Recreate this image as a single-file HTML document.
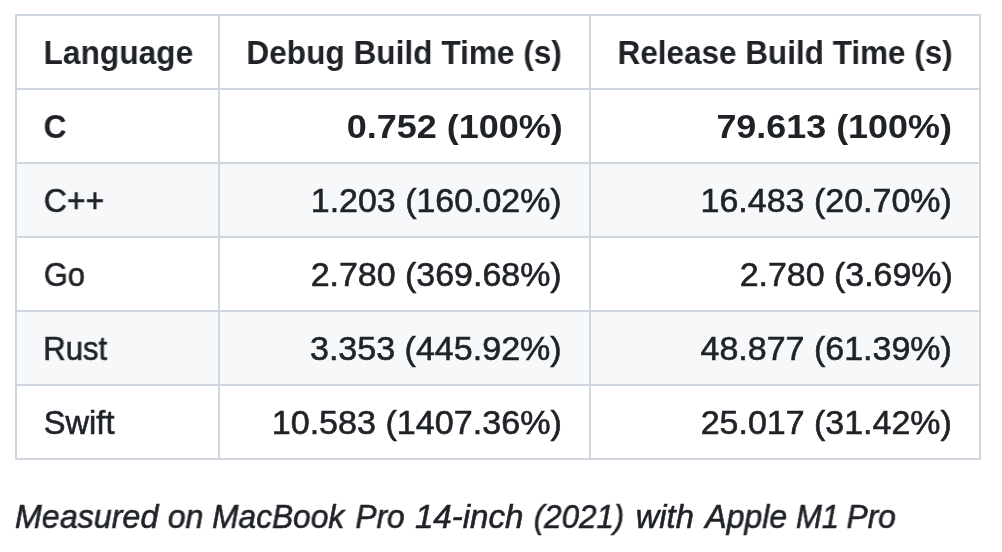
<!DOCTYPE html>
<html><head><meta charset="utf-8"><style>
html,body{margin:0;padding:0;background:#ffffff;width:1002px;height:552px;overflow:hidden}
body{position:relative;font-family:"Liberation Sans",sans-serif;color:#1f2328}
.hl{position:absolute;left:15px;width:966px;height:2px;background:#d0d7de}
.vl{position:absolute;top:14px;height:446px;width:2px;background:#d0d7de}
.bg{position:absolute;background:#f6f8fa}
.t{position:absolute;left:0;font-size:32.5px;line-height:48px;white-space:nowrap;transform-origin:0 0;will-change:transform;-webkit-text-stroke:0.6px #1f2328}
.b{font-weight:bold;-webkit-text-stroke:0}
.i{font-style:italic}
</style></head><body>
<div class="bg" style="left:15px;top:162px;width:966px;height:76px"></div>
<div class="bg" style="left:15px;top:310px;width:966px;height:76px"></div>
<div class="hl" style="top:14px"></div>
<div class="hl" style="top:88px"></div>
<div class="hl" style="top:162px"></div>
<div class="hl" style="top:236px"></div>
<div class="hl" style="top:310px"></div>
<div class="hl" style="top:384px"></div>
<div class="hl" style="top:458px"></div>
<div class="vl" style="left:15px"></div>
<div class="vl" style="left:218px"></div>
<div class="vl" style="left:589px"></div>
<div class="vl" style="left:979px"></div>
<div class="t b" style="top:29px;transform:translateX(43.55px) scaleX(0.9747)">Language</div>
<div class="t b" style="top:29px;transform:translateX(246.35px) scaleX(0.9726)">Debug Build Time (s)</div>
<div class="t b" style="top:29px;transform:translateX(617.56px) scaleX(0.9681)">Release Build Time (s)</div>
<div class="t b" style="top:103px;transform:translateX(43.52px) scaleX(0.9810)">C</div>
<div class="t b" style="top:103px;transform:translateX(346.79px) scaleX(1.1073)">0.752 (100%)</div>
<div class="t b" style="top:103px;transform:translateX(716.40px) scaleX(1.1043)">79.613 (100%)</div>
<div class="t " style="top:177px;transform:translateX(43.82px) scaleX(0.9831)">C++</div>
<div class="t " style="top:177px;transform:translateX(310.81px) scaleX(1.0439)">1.203 (160.02%)</div>
<div class="t " style="top:177px;transform:translateX(700.51px) scaleX(1.0460)">16.483 (20.70%)</div>
<div class="t " style="top:251px;transform:translateX(43.85px) scaleX(0.9488)">Go</div>
<div class="t " style="top:251px;transform:translateX(310.66px) scaleX(1.0445)">2.780 (369.68%)</div>
<div class="t " style="top:251px;transform:translateX(739.66px) scaleX(1.0438)">2.780 (3.69%)</div>
<div class="t " style="top:325px;transform:translateX(43.29px) scaleX(0.9554)">Rust</div>
<div class="t " style="top:325px;transform:translateX(309.95px) scaleX(1.0475)">3.353 (445.92%)</div>
<div class="t " style="top:325px;transform:translateX(700.50px) scaleX(1.0460)">48.877 (61.39%)</div>
<div class="t " style="top:399px;transform:translateX(43.80px) scaleX(1.0029)">Swift</div>
<div class="t " style="top:399px;transform:translateX(271.70px) scaleX(1.0495)">10.583 (1407.36%)</div>
<div class="t " style="top:399px;transform:translateX(700.65px) scaleX(1.0454)">25.017 (31.42%)</div>
<div class="t i" style="top:493px;transform:translateX(14.91px) scaleX(0.9924)">Measured</div>
<div class="t i" style="top:493px;transform:translateX(167.71px) scaleX(0.9882)">on</div>
<div class="t i" style="top:493px;transform:translateX(212.13px) scaleX(0.9743)">MacBook</div>
<div class="t i" style="top:493px;transform:translateX(355.43px) scaleX(0.9714)">Pro</div>
<div class="t i" style="top:493px;transform:translateX(414.88px) scaleX(1.0192)">14-inch</div>
<div class="t i" style="top:493px;transform:translateX(533.74px) scaleX(0.9637)">(2021)</div>
<div class="t i" style="top:493px;transform:translateX(635.80px) scaleX(1.0036)">with</div>
<div class="t i" style="top:493px;transform:translateX(705.17px) scaleX(0.9869)">Apple</div>
<div class="t i" style="top:493px;transform:translateX(795.95px) scaleX(0.9548)">M1</div>
<div class="t i" style="top:493px;transform:translateX(846.53px) scaleX(0.9735)">Pro</div>
</body></html>
